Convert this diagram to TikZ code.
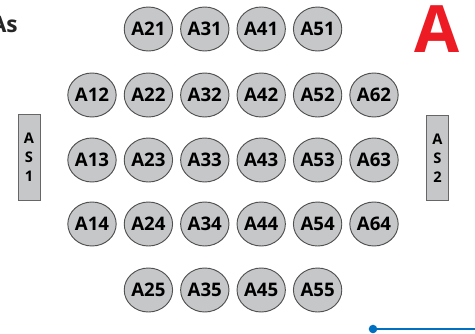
\documentclass[tikz,border=0pt]{standalone}
\usepackage{fontspec}
\setmainfont{Open Sans}
\usetikzlibrary{shapes.geometric}
\definecolor{seatfill}{RGB}{198,199,201}
\definecolor{seatline}{RGB}{80,80,80}
\definecolor{zonered}{RGB}{237,28,36}
\definecolor{pathblue}{RGB}{0,112,192}
\tikzset{
  seat/.style={ellipse,draw=seatline,fill=seatfill,line width=0.7pt,
    minimum width=29.5pt,minimum height=33pt,inner sep=0pt,
    font=\fontsize{14}{14}\selectfont\bfseries},          % seat disc
  stand/.style={draw=gray!80!black,fill=seatfill,line width=0.6pt,
    minimum width=16.5pt,minimum height=64pt,inner sep=0pt,align=center,
    font=\fontsize{11}{14.3}\selectfont\bfseries},        % side box
  zone/.style={text=zonered,font=\fontsize{49}{49}\selectfont\bfseries},
  walk/.style={pathblue,line width=1.8pt},
}
\begin{document}
\begin{tikzpicture}[x=0.75pt,y=-0.75pt]
  \useasboundingbox (0,0) rectangle (475,333);
  % labels at the top
  \node[anchor=base east,inner sep=0pt,text=black!85,
    font=\fontsize{17}{17}\selectfont\bfseries] (cut) at (18,32) {As};
  \node[zone,anchor=base,inner sep=0pt] (zoneA) at (437.5,52) {A};
  % seats, A<col><row>
  \foreach \r/\y/\cmin/\cmax in {1/29/2/5, 2/95/1/6, 3/160/1/6, 4/224/1/6, 5/290/2/5} {
    \foreach \c in {\cmin,...,\cmax} {
      \node[seat] (A\c\r) at ({92+56.4*(\c-1)},\y) {A\c\r};
    }
  }
  % side boxes
  \node[stand] (AS1) at (29,157.5) {A\\S\\1};
  \node[stand] (AS2) at (437.5,158) {A\\S\\2};
  % blue path at the bottom
  \coordinate (walkL) at (373,329);
  \coordinate (walkR) at (475,329);
  \draw[walk] (walkL) -- (walkR);
  \fill[pathblue] (walkL) circle (3.2pt);
\end{tikzpicture}
\end{document}
